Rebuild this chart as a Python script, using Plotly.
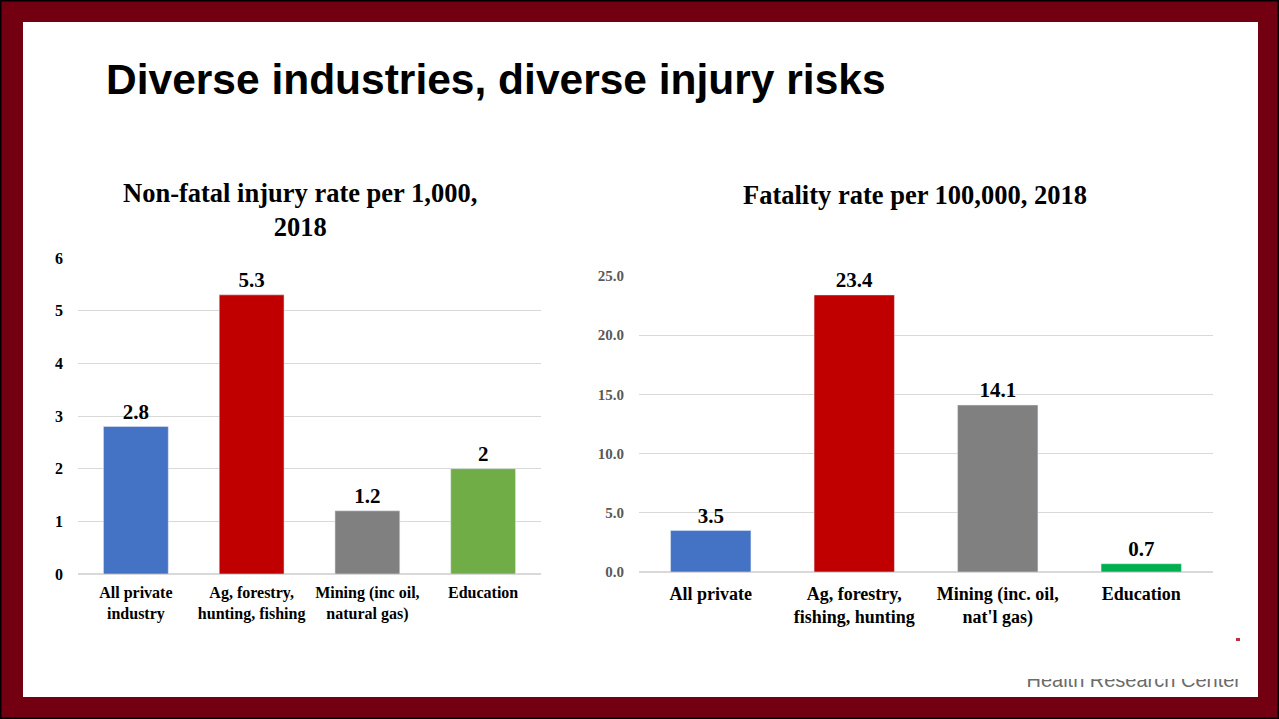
import plotly.graph_objects as go

# ---- data ----
nonfatal_categories = ["All private<br>industry", "Ag, forestry,<br>hunting, fishing",
                       "Mining (inc oil,<br>natural gas)", "Education"]
nonfatal_rates = [2.8, 5.3, 1.2, 2]
nonfatal_colors = ["#4472C4", "#C00000", "#808080", "#70AD47"]
nonfatal_ticks = [0, 1, 2, 3, 4, 5, 6]

fatal_categories = ["All private", "Ag, forestry,<br>fishing, hunting",
                    "Mining (inc. oil,<br>nat'l gas)", "Education"]
fatal_rates = [3.5, 23.4, 14.1, 0.7]
fatal_colors = ["#4472C4", "#C00000", "#808080", "#00B050"]
fatal_ticks = [0, 5, 10, 15, 20, 25]

W, H = 1279, 719
SERIF = "Liberation Serif, Times New Roman, serif"
SANS = "Liberation Sans, Arial, sans-serif"


def px(x):
    return x / W


def py(y):
    return 1 - y / H


fig = go.Figure()

fig.add_trace(go.Bar(
    x=nonfatal_categories, y=nonfatal_rates, marker_color=nonfatal_colors,
    texttemplate="%{y}", textposition="outside", cliponaxis=False,
    textfont=dict(family=SERIF, size=21, color="black", weight="bold"),
    xaxis="x", yaxis="y", showlegend=False, hoverinfo="x+y",
))
fig.add_trace(go.Bar(
    x=fatal_categories, y=fatal_rates, marker_color=fatal_colors,
    texttemplate="%{y:.1f}", textposition="outside", cliponaxis=False,
    textfont=dict(family=SERIF, size=21, color="black", weight="bold"),
    xaxis="x2", yaxis="y2", showlegend=False, hoverinfo="x+y",
))

# footer organisation name on a full-page overlay axis
fig.add_trace(go.Scatter(
    x=[1241], y=[682], mode="text", text=["Health Research Center"],
    textposition="middle left",
    textfont=dict(family=SANS, size=20, color="#6b6b6b"),
    xaxis="x3", yaxis="y3", showlegend=False, hoverinfo="skip",
))

grid = "#d9d9d9"
fig.update_layout(
    width=W, height=H,
    margin=dict(l=0, r=0, t=0, b=0, pad=0),
    paper_bgcolor="#720010",
    plot_bgcolor="rgba(0,0,0,0)",
    bargap=0.44,
    xaxis=dict(domain=[px(78), px(541)], showgrid=False, showline=False, zeroline=False,
               ticks="", ticklabelstandoff=7, anchor="y", automargin=False,
               tickfont=dict(family=SERIF, size=16, color="black", weight="bold")),
    yaxis=dict(domain=[py(574), py(258)], range=[0, 6], tickvals=nonfatal_ticks, anchor="x",
               showgrid=True, gridcolor=grid, gridwidth=1, zeroline=True, zerolinecolor=grid,
               showline=False, ticks="", ticklabelstandoff=14, automargin=False,
               tickfont=dict(family=SERIF, size=16, color="black", weight="bold")),
    xaxis2=dict(domain=[px(639), px(1213)], showgrid=False, showline=False, zeroline=False,
                ticks="", ticklabelstandoff=9, anchor="y2", automargin=False,
                tickfont=dict(family=SERIF, size=18, color="black", weight="bold")),
    yaxis2=dict(domain=[py(572), py(276)], range=[0, 25], tickvals=fatal_ticks,
                tickformat=".1f", anchor="x2", automargin=False,
                showgrid=True, gridcolor=grid, gridwidth=1, zeroline=True, zerolinecolor=grid,
                showline=False, ticks="", ticklabelstandoff=14,
                tickfont=dict(family=SERIF, size=15, color="#595959", weight="bold")),
    xaxis3=dict(domain=[0, 1], range=[0, W], visible=False, fixedrange=True, anchor="y3",
                automargin=False),
    yaxis3=dict(domain=[0, 1], range=[H, 0], visible=False, fixedrange=True, anchor="x3",
                automargin=False),
)

# slide frame: white panel inside a dark red border with a thin black edge
fig.add_shape(type="rect", xref="paper", yref="paper", x0=px(23), x1=px(1258),
              y0=py(697), y1=py(22), fillcolor="white", line=dict(width=0), layer="below")
fig.add_shape(type="rect", xref="paper", yref="paper", x0=0, x1=1, y0=0, y1=1,
              fillcolor="rgba(0,0,0,0)", line=dict(color="black", width=3), layer="above")
# mask over the upper part of the footer name, and a small logo mark
fig.add_shape(type="rect", xref="paper", yref="paper", x0=px(1000), x1=px(1250),
              y0=py(679), y1=py(660), fillcolor="white", line=dict(width=0), layer="above")
fig.add_shape(type="rect", xref="paper", yref="paper", x0=px(1236), x1=px(1240),
              y0=py(641), y1=py(638), fillcolor="#c0303a", line=dict(width=0), layer="above")

# titles
fig.add_annotation(text="Diverse industries, diverse injury risks", xref="paper", yref="paper",
                   x=px(104), y=py(80), xanchor="left", yanchor="middle", showarrow=False,
                   font=dict(family=SANS, size=42.5, color="black", weight="bold"))
fig.add_annotation(text="Non-fatal injury rate per 1,000,<br>2018", xref="paper", yref="paper",
                   x=px(300), y=py(210), xanchor="center", yanchor="middle", showarrow=False,
                   font=dict(family=SERIF, size=26.5, color="black", weight="bold"))
fig.add_annotation(text="Fatality rate per 100,000, 2018", xref="paper", yref="paper",
                   x=px(915), y=py(195), xanchor="center", yanchor="middle", showarrow=False,
                   font=dict(family=SERIF, size=26.5, color="black", weight="bold"))

fig.write_html("out.html", post_script="document.body.style.margin='0';")
